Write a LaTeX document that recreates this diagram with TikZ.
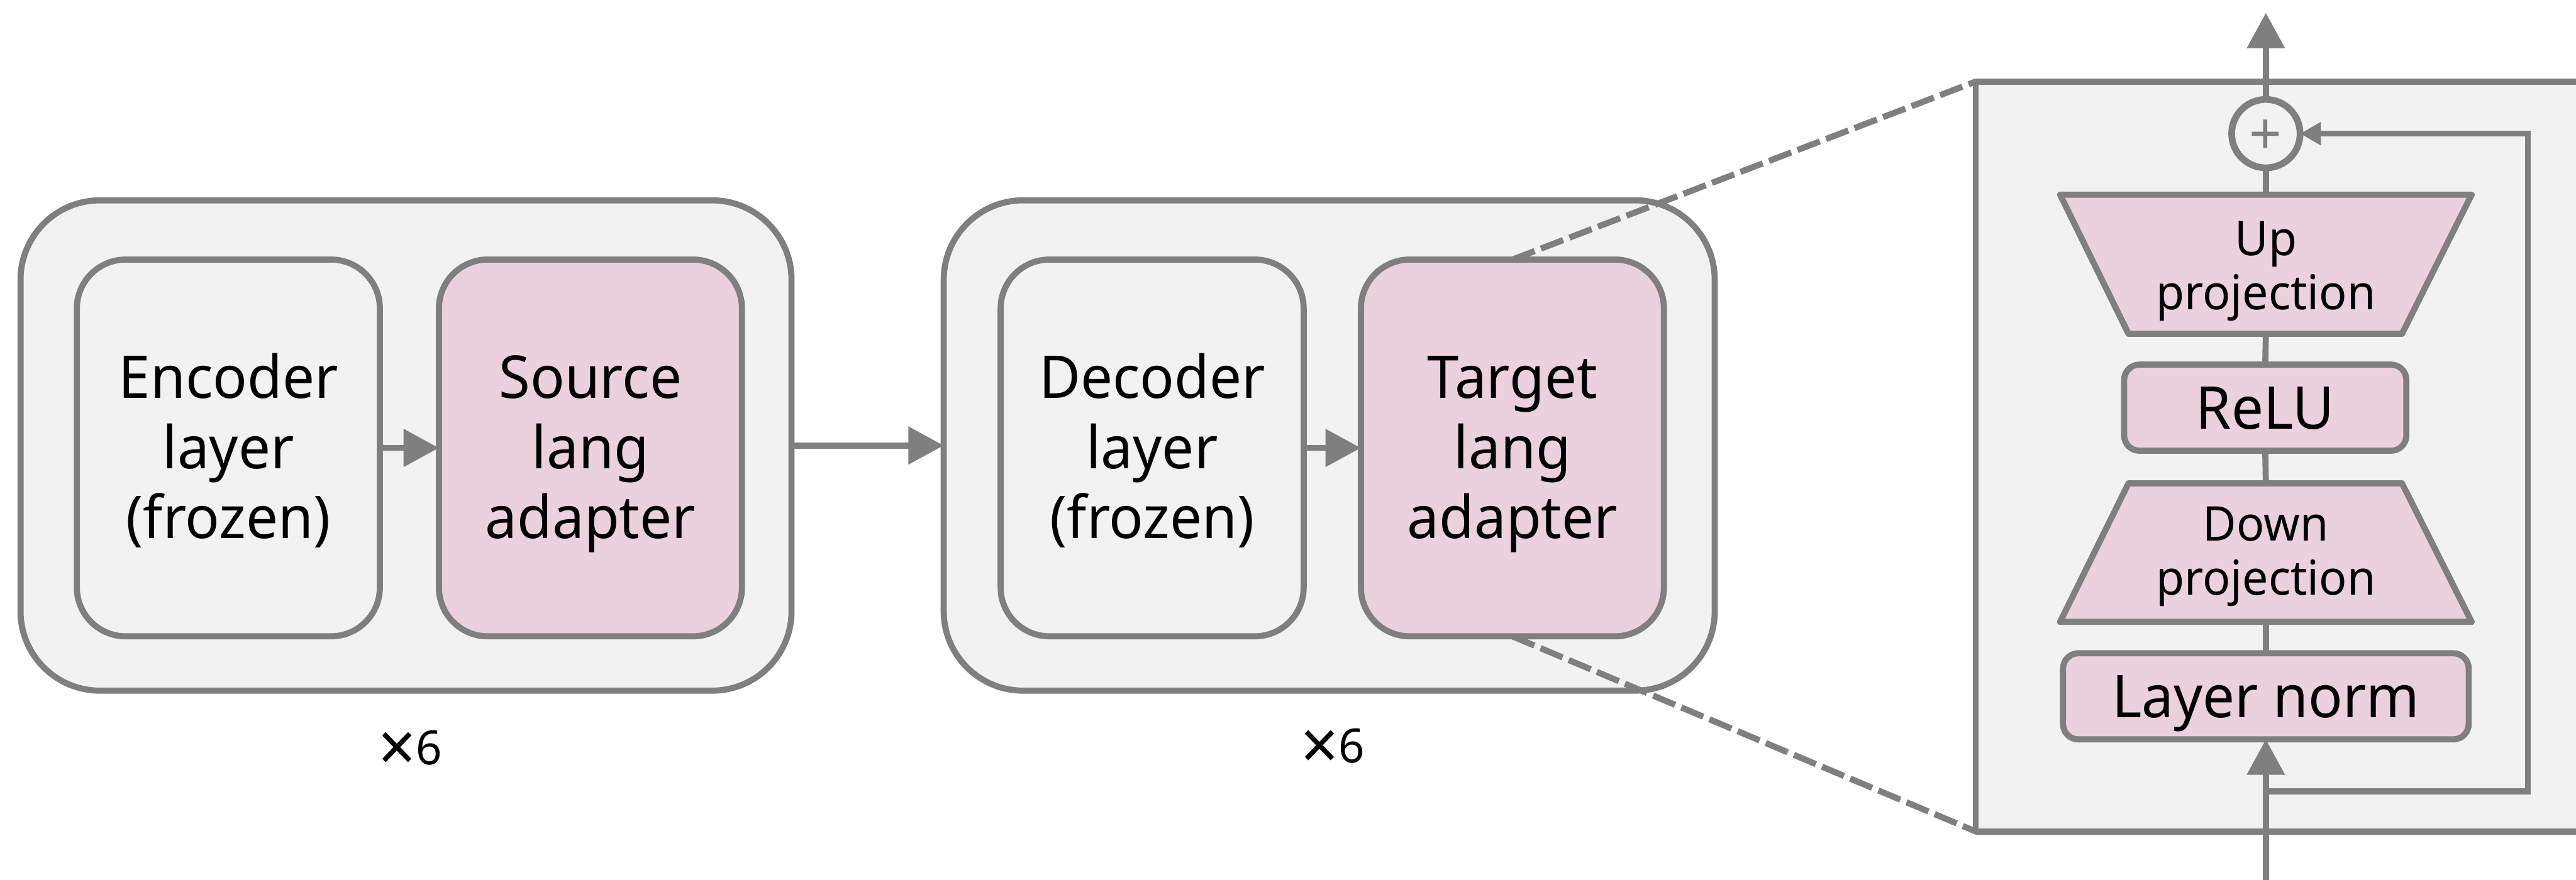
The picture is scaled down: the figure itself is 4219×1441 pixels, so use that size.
\documentclass[tikz,border=0pt]{standalone}
\usepackage{fontspec}
\usepackage{graphicx}
\setmainfont{Noto Sans}[FakeStretch=0.965]
\usetikzlibrary{arrows.meta,calc}
\definecolor{linegray}{HTML}{7F7F7F}
\definecolor{boxgray}{HTML}{F2F2F2}
\definecolor{adpink}{HTML}{EAD1DC}
\newcommand\bigfs{\fontsize{27.5pt}{32.6pt}\selectfont}
\newcommand\projfs{\fontsize{22.3pt}{25.2pt}\selectfont}
\newcommand\repfs{\fontsize{22pt}{26pt}\selectfont}
% struts that fix the vertical extent of the three-line labels
\newcommand\topstrut{\rule{0pt}{1.02cm}}
\newcommand\botstrut{\rule[-0.35cm]{0pt}{0.35cm}}
\newcommand\timesrep{\raisebox{-3.2pt}{\scalebox{1.45}{×}}}
\begin{document}
\begin{tikzpicture}[x=0.01cm, y=-0.01cm,
  every node/.style={align=center, text=black, outer sep=0pt, inner sep=0pt},
  stackbox/.style={draw=linegray, line width=0.1cm, fill=boxgray,
    rounded corners=1.3cm, minimum width=12.62cm, minimum height=8.03cm},
  layerbox/.style={draw=linegray, line width=0.1cm, fill=boxgray,
    rounded corners=0.8cm, minimum width=4.96cm, minimum height=6.17cm, font=\bigfs},
  adapterbox/.style={layerbox, fill=adpink},
  reps/.style={font=\repfs},
  panelbox/.style={draw=linegray, line width=0.1cm, fill=boxgray, line join=round},
  smallbox/.style={draw=linegray, line width=0.1cm, fill=adpink,
    rounded corners=0.25cm, minimum height=1.41cm, font=\bigfs,
    text height=19.6pt, text depth=0pt},
  trap/.style={draw=linegray, line width=0.1cm, fill=adpink, line join=round},
  projtext/.style={font=\projfs},
  link/.style={draw=linegray, line width=0.1cm},
  arr/.style={link, -{Triangle[length=0.58cm, width=0.6cm]}},
  arrsmall/.style={link, -{Triangle[length=0.34cm, width=0.36cm]}},
  zoomline/.style={draw=linegray, line width=0.1cm, dash pattern=on 0.39cm off 0.11cm}
]
\useasboundingbox (0,0) rectangle (4219,1441);
\clip (0,0) rectangle (4219,1441);

% encoder stack
\node[stackbox] (encstack) at (665,730) {};
\node[layerbox] (enc) at (374,734) {\topstrut Encoder\\layer\\(frozen)\botstrut};
\node[adapterbox] (src) at (967,734) {\topstrut Source\\lang\\adapter\botstrut};
\draw[arr] (enc) -- (src);
\node[reps] (encx) at (672,1231) {\timesrep6};

% decoder stack
\node[stackbox] (decstack) at (2177,730) {};
\node[layerbox] (dec) at (1887,734) {\topstrut Decoder\\layer\\(frozen)\botstrut};
\node[adapterbox] (tgt) at (2477,734) {\topstrut Target\\lang\\adapter\botstrut};
\draw[arr] (dec) -- (tgt);
\node[reps] (decx) at (2183,1228) {\timesrep6};

\draw[arr] (encstack) -- (decstack);

% adapter detail panel
\node[panelbox, minimum width=10.64cm, minimum height=12.28cm] (panel) at (3768,748) {};
\draw[zoomline] (tgt.north) -- (panel.north west);
\draw[zoomline] (tgt.south) -- (panel.south west);

% trapezoid outlines
\coordinate (upA) at (3374,319);
\coordinate (upB) at (4048,319);
\coordinate (upC) at (3934,547);
\coordinate (upD) at (3486,547);
\coordinate (dnA) at (3486,792);
\coordinate (dnB) at (3934,792);
\coordinate (dnC) at (4048,1019);
\coordinate (dnD) at (3374,1019);
\coordinate (uptop) at (3711,319);
\coordinate (upbot) at (3711,547);
\coordinate (dntop) at (3711,792);
\coordinate (dnbot) at (3711,1019);

\node[smallbox, minimum width=6.64cm] (ln) at (3711,1141) {Layer norm};
\node[smallbox, minimum width=4.62cm] (relu) at (3710,668) {ReLU};
\node[draw=linegray, line width=0.11cm, fill=boxgray, circle, minimum size=1.12cm,
  text=linegray, font=\bigfs, text height=19.6pt, text depth=0pt] (plus) at (3711,219) {+};

\path[trap] (upA) -- (upB) -- (upC) -- (upD) -- cycle;
\path[trap] (dnA) -- (dnB) -- (dnC) -- (dnD) -- cycle;
\node[projtext] (up) at (3711,444) {Up\\projection};
\node[projtext] (down) at (3711,912) {Down\\projection};

% main path through the adapter
\coordinate (inbot) at (3711,1460);
\coordinate (outtop) at (3711,21);
\coordinate (skip) at (3711,1297);
\coordinate (skipturn) at (4140,1297);
\draw[arr] (inbot) -- (ln.south);
\draw[link] (ln.north) -- (dnbot);
\draw[link] (dntop) -- (relu.south);
\draw[link] (relu.north) -- (upbot);
\draw[link] (uptop) -- (plus.south);
\draw[arr] (plus.north) -- (outtop);

% residual connection
\draw[arrsmall] (skip) -- (skipturn) |- (plus.east);
\end{tikzpicture}
\end{document}
